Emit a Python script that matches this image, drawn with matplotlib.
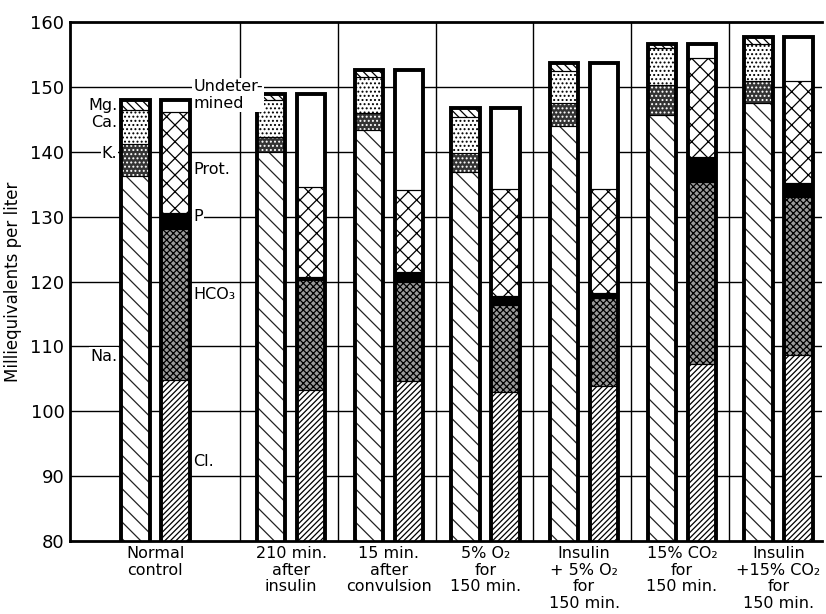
import matplotlib
matplotlib.use("Agg")
import matplotlib.pyplot as plt
import numpy as np

plt.rcParams['font.family'] = ['DejaVu Sans']
plt.rcParams['hatch.linewidth'] = 0.9

groups = ["Normal\ncontrol", "210 min.\nafter\ninsulin", "15 min.\nafter\nconvulsion",
          "5% O₂\nfor\n150 min.", "Insulin\n+ 5% O₂\nfor\n150 min.",
          "15% CO₂\nfor\n150 min.", "Insulin\n+15% CO₂\nfor\n150 min."]
group_pos = [-0.87, 0.52, 1.52, 2.51, 3.52, 4.52, 5.51]

# cation segments (mEq/L)
Na = [136.3, 139.9, 143.3, 136.9, 144.0, 145.6, 147.5]
K = [4.9, 2.4, 2.7, 2.9, 3.5, 4.7, 3.4]
Ca = [5.2, 5.7, 5.5, 5.6, 4.9, 5.7, 5.8]
Mg = [1.6, 0.9, 1.1, 1.3, 1.3, 0.6, 1.0]

# anion segments (mEq/L)
Cl = [104.8, 103.3, 104.7, 102.9, 103.9, 107.3, 108.7]
HCO3 = [23.3, 16.9, 15.3, 13.5, 13.6, 28.1, 24.4]
P = [2.4, 0.5, 1.4, 1.3, 0.7, 3.8, 2.1]
Prot = [15.7, 13.9, 12.7, 16.5, 16.1, 15.2, 15.7]
Undet = [1.8, 14.3, 18.5, 12.5, 19.4, 2.2, 6.8]

fig = plt.figure(figsize=(8.26, 6.14), dpi=100)
ax = fig.add_axes([0.0847, 0.119, 0.911, 0.845])

ax.set_ylim(80, 160)
ax.set_xlim(-1.745, 5.96)

# grid
for y in range(90, 160, 10):
    ax.axhline(y, color='black', lw=1.0, zorder=0)
for x in range(0, 6):
    ax.axvline(x, color='black', lw=1.0, zorder=0)

w = 0.29
off = 0.205

cat_styles = [  # (face, hatchcolor, hatch)
    ('white', '#222222', '\\\\'),    # Na
    ('#333333', 'white', '....'),    # K
    ('white', 'black', '....'),      # Ca
    ('white', 'black', '\\\\\\\\'),  # Mg
]
an_styles = [
    ('white', 'black', '//////'),    # Cl
    ('#9a9a9a', 'black', 'xxxxx'),   # HCO3
    ('black', 'black', ''),          # P
    ('white', 'black', 'xx'),        # Prot
    ('white', 'white', ''),          # Undet
]

def draw_stack(x, segs, styles):
    bottom = 0.0
    for v, (fc, hc, h) in zip(segs, styles):
        ax.bar(x, v, width=w, bottom=bottom, color=fc, edgecolor=hc, hatch=h,
               linewidth=0, zorder=2)
        ax.bar(x, v, width=w, bottom=bottom, facecolor='none', edgecolor='black',
               linewidth=0.8, zorder=3)
        bottom += v
    ax.bar(x, bottom, width=w, bottom=0, facecolor='none', edgecolor='black',
           linewidth=2.8, zorder=4)

for i, gx in enumerate(group_pos):
    draw_stack(gx - off, [Na[i], K[i], Ca[i], Mg[i]], cat_styles)
    draw_stack(gx + off, [Cl[i], HCO3[i], P[i], Prot[i], Undet[i]], an_styles)

# in-plot labels
lab = dict(fontsize=11.5, zorder=5,
           bbox=dict(facecolor='white', edgecolor='none', pad=0.8))
xl = group_pos[0] - off - w / 2 - 0.04
xr = group_pos[0] + off + w / 2 + 0.04
ax.text(xl, 147.2, "Mg.", ha='right', va='center', **lab)
ax.text(xl, 144.5, "Ca.", ha='right', va='center', **lab)
ax.text(xl, 139.7, "K.", ha='right', va='center', **lab)
ax.text(xl, 108.5, "Na.", ha='right', va='center', **lab)
ax.text(xr, 148.7, "Undeter-\nmined", ha='left', va='center', linespacing=1.15, **lab)
ax.text(xr, 137.3, "Prot.", ha='left', va='center', **lab)
ax.text(xr, 130.0, "P", ha='left', va='center', **lab)
ax.text(xr, 118.0, "HCO₃", ha='left', va='center', **lab)
ax.text(xr, 92.2, "Cl.", ha='left', va='center', **lab)

ax.set_yticks(range(80, 161, 10))
ax.set_yticklabels([str(v) for v in range(80, 161, 10)], fontsize=13)
ax.set_xticks(group_pos)
ax.set_xticklabels(groups, fontsize=11.5, linespacing=1.12)
ax.tick_params(axis='both', length=0)
ax.tick_params(axis='y', pad=4)
ax.tick_params(axis='x', pad=4)
ax.set_ylabel("Milliequivalents per liter", fontsize=12, labelpad=6)

for s in ['left', 'top', 'bottom']:
    ax.spines[s].set_linewidth(2.0)
ax.spines['right'].set_visible(False)

fig.savefig("out.png", dpi=100)
